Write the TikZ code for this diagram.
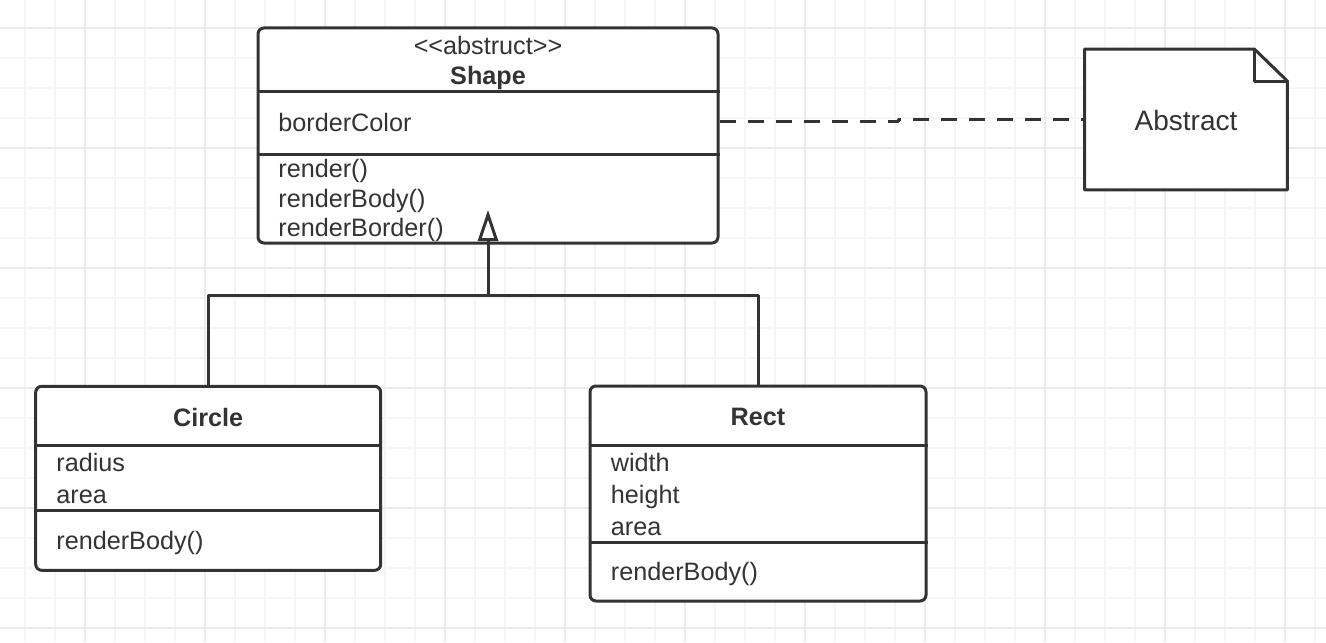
\documentclass[tikz,border=0pt]{standalone}
\usepackage{fontspec}
\setmainfont{Liberation Sans}
\usetikzlibrary{arrows.meta}
\definecolor{inkgray}{HTML}{333333}
\definecolor{gridminor}{HTML}{F5F5F5}
\definecolor{gridmajor}{HTML}{EBEBEB}

\begin{document}
\begin{tikzpicture}[x=0.5pt, y=-0.5pt, line join=round,
  every node/.style={text=inkgray, font=\fontsize{12.6pt}{14pt}\selectfont},
  classbox/.style={draw=inkgray, fill=white, line width=1.5pt, rounded corners=3pt, inner sep=0pt},
  notebox/.style={inner sep=0pt, minimum width=101pt, minimum height=70pt},
  member/.style={anchor=base west, inner sep=0pt},
  stereo/.style={anchor=base, inner sep=0pt},
  classname/.style={anchor=base, inner sep=0pt, font=\fontsize{12.6pt}{14pt}\selectfont\bfseries},
  divider/.style={draw=inkgray, line width=1.5pt},
  conn/.style={draw=inkgray, line width=1.5pt},
  >={Triangle[open, length=15.5pt, width=10pt]}]

\useasboundingbox (0,0) rectangle (1326,642);
%grid
\fill[white] (0,0) rectangle (1326,642);
\foreach \gx in {24.5,54.5,...,1326} \draw[gridminor, line width=1pt] (\gx,0) -- (\gx,642);
\foreach \gy in {28,58,...,642} \draw[gridminor, line width=1pt] (0,\gy) -- (1326,\gy);
\foreach \gx in {84.5,204.5,...,1326} \draw[gridmajor, line width=1pt] (\gx,0) -- (\gx,642);
\foreach \gy in {28,148,...,642} \draw[gridmajor, line width=1pt] (0,\gy) -- (1326,\gy);

%boxes
\node[classbox, minimum width=230pt, minimum height=107.5pt] (shape) at (488,135.5) {};
\node[classbox, minimum width=172.5pt, minimum height=92pt] (circle) at (208.2,478.3) {};
\node[classbox, minimum width=168pt, minimum height=107.5pt] (rect) at (758,493.5) {};
\node[notebox] (note) at (1186,119.5) {};
\draw[divider, fill=white] (note.north west) -- ([xshift=-16.5pt]note.north east)
  -- ([yshift=-16pt]note.north east) -- (note.south east) -- (note.south west) -- cycle;
\draw[divider] ([xshift=-16.5pt]note.north east) |- ([yshift=-16pt]note.north east);
\node[inner sep=0pt, font=\fontsize{14pt}{16pt}\selectfont] (notetext) at ([yshift=-0.6pt]note.center) {Abstract};

%dividers
\draw[divider] (shape.west |- 0,92) -- (shape.east |- 0,92);
\draw[divider] (shape.west |- 0,154.5) -- (shape.east |- 0,154.5);
\draw[divider] (circle.west |- 0,445.7) -- (circle.east |- 0,445.7);
\draw[divider] (circle.west |- 0,510) -- (circle.east |- 0,510);
\draw[divider] (rect.west |- 0,445.7) -- (rect.east |- 0,445.7);
\draw[divider] (rect.west |- 0,542) -- (rect.east |- 0,542);

%texts
\node[stereo] (stereotype) at (488,54.3) {<\kern0pt<abstruct>\kern0pt>};
\node[classname] (shapename) at (488,84.3) {Shape};
\node[member] (bordercolor) at (278,131.7) {borderColor};
\node[member] (render) at (278,177.5) {render()};
\node[member] (renderbody) at (278,207.2) {renderBody()};
\node[member] (renderborder) at (278,236.8) {renderBorder()};

\node[classname] (circlename) at (208.2,426) {Circle};
\node[member] (radius) at (56,471.7) {radius};
\node[member] (circlearea) at (56,503.3) {area};
\node[member] (circlebody) at (56,549) {renderBody()};

\node[classname] (rectname) at (758,425) {Rect};
\node[member] (width) at (610.5,471.7) {width};
\node[member] (height) at (610.5,503.3) {height};
\node[member] (rectarea) at (610.5,535) {area};
\node[member] (rectbody) at (610.5,580) {renderBody()};

%connectors
\coordinate (bus) at (488,295);
\coordinate (tip) at (488,210);
\coordinate (jog) at (898,121.7);
\draw[conn] (circle.north) |- (bus);
\draw[conn] (rect.north) |- (bus);
\draw[conn, ->] (bus) -- (tip);
\draw[conn, dash pattern=on 8pt off 6pt] (shape.east |- jog) -- (jog) |- (note.west);

\end{tikzpicture}
\end{document}
